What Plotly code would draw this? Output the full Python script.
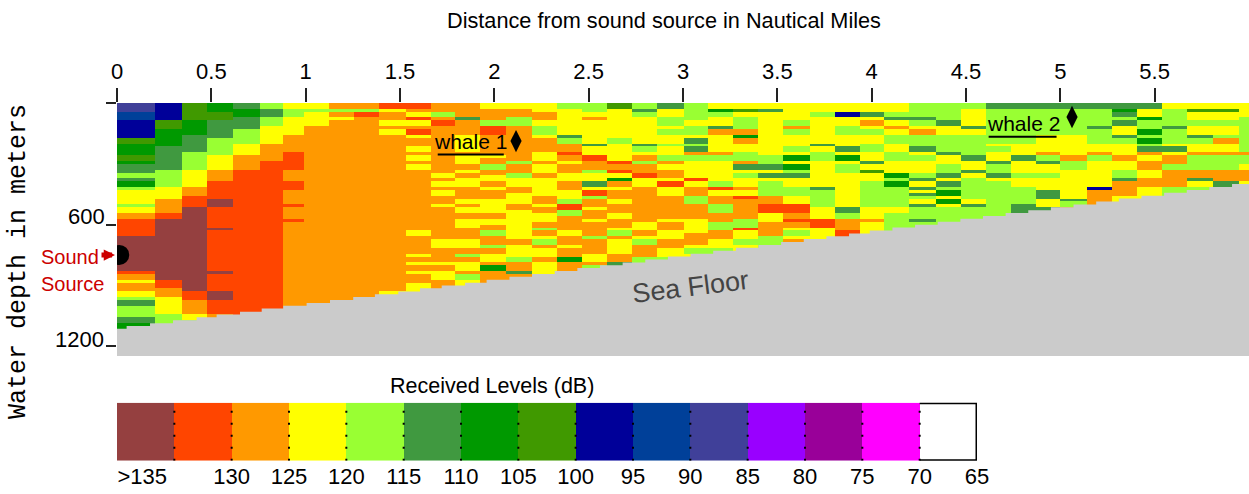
import numpy as np
import plotly.graph_objects as go

# ---------- data ----------
column_edges_nm = [0, .2015, .343, .476, .617, .758, .882, .993, 1.126, 1.257, 1.388, 1.531, 1.663, 1.794, 1.926,
                   2.061, 2.199, 2.333, 2.464, 2.597, 2.729, 2.862, 3.003, 3.134, 3.265, 3.397, 3.530, 3.671,
                   3.803, 3.936, 4.067, 4.199, 4.341, 4.473, 4.606, 4.736, 4.869, 5.0, 5.142, 5.274, 5.407,
                   5.537, 5.670, 5.810, 5.945, 6.0]
row_height_m = 14.3
n_rows = 87

# each column: received level (dB bin), number of depth rows, from the surface down
col_01 = [87,3,92,3,97,6,102,2,107,4,102,2,107,1,112,3,117,2,112,1,107,2,117,1,122,5,117,1,122,2,127,2,132,6,137,12,132,1,127,2,122,1,127,3,122,2,117,1,112,2,117,4,112,2,107,2]
col_02 = [97,6,102,3,107,6,112,8,117,6,122,4,127,5,132,2,137,21,132,3,127,3,122,6,117,3,117,4]
col_03 = [102,6,107,5,112,6,117,6,122,6,127,3,132,4,137,29,132,3,127,5,122,2,117,2]
col_04 = [107,3,102,3,112,6,117,6,122,5,127,4,132,6,137,3,132,7,137,1,132,14,137,1,132,6,137,3,132,5,127,2]
col_05 = [112,2,107,3,112,4,117,5,122,4,127,5,132,49]
col_06 = [117,2,112,3,117,3,122,6,127,6,132,51]
col_07 = [122,2,117,3,122,6,127,6,132,6,127,4,132,3,127,5,132,1,127,4,132,1,127,30]
col_08 = [122,2,117,1,122,5,127,60]
col_09 = [127,2,117,1,127,2,122,1,127,60]
col_10 = [127,2,117,1,132,2,127,60]
col_11 = [132,2,122,1,127,3,122,2,127,1,122,2,127,54,122,1]
col_12 = [132,2,127,1,122,2,132,1,122,2,127,1,132,2,122,1,127,3,122,2,127,1,122,2,127,1,122,2,127,21,122,2,127,6,122,1,127,2,122,1,127,2,122,1,127,3,122,2]
col_13 = [127,3,117,2,127,1,132,2,127,16,122,2,127,1,122,2,127,1,122,2,127,3,122,1,127,11,122,3,127,5,122,1,127,2,122,3,127,5]
col_14 = [127,5,112,1,127,5,122,6,127,1,122,3,127,2,122,1,127,2,122,3,127,4,122,2,127,1,122,2,127,2,122,3,127,4,122,3,127,2,117,1,127,2,122,3,127,1,117,2,122,3]
col_15 = [122,2,127,4,117,2,132,3,127,7,122,1,127,2,117,2,127,2,122,2,127,2,122,1,127,3,122,5,127,2,122,2,127,2,117,2,127,3,117,1,127,2,122,3,127,1,107,2,127,3]
col_16 = [122,2,127,3,117,3,127,12,117,1,127,3,117,2,122,3,127,2,122,4,127,2,122,10,127,2,122,4,117,2,127,3,112,1,127,2]
col_17 = [122,3,127,3,122,2,117,3,122,1,127,5,122,3,127,1,122,3,127,2,122,6,127,3,122,1,127,2,122,3,127,2,117,1,127,2,122,1,117,2,127,1,122,3,127,2,122,5]
col_18 = [117,2,122,9,112,1,117,2,127,3,132,1,127,2,122,1,127,3,122,3,127,3,122,3,117,2,132,2,117,2,127,5,122,2,127,3,122,1,127,3,107,2,127,3]
col_19 = [117,3,122,2,127,1,122,8,112,1,122,3,132,2,127,3,117,1,122,3,112,2,122,1,132,2,117,1,127,3,122,1,127,3,122,1,127,5,117,1,127,5,122,3,127,1,117,1]
col_20 = [102,2,122,10,117,2,122,6,132,1,127,2,132,1,122,2,107,1,127,2,122,1,127,3,122,2,127,3,122,2,127,3,122,1,117,2,127,1,122,5,127,3,112,1]
col_21 = [117,2,112,1,117,2,122,9,112,1,117,2,122,1,127,2,117,1,127,3,132,2,122,3,127,12,122,3,127,2,122,1,117,2,127,4,117,2]
col_22 = [112,2,122,3,117,3,122,1,117,2,122,3,117,1,122,3,117,2,127,1,122,2,127,3,122,1,132,2,122,3,127,8,122,1,127,3,122,3,127,3,122,3,117,2]
col_23 = [117,6,122,2,117,3,122,1,112,2,117,1,112,2,127,1,117,2,122,6,132,1,122,2,127,3,117,3,127,5,122,5,127,4,122,1,117,2,122,2]
col_24 = [122,2,107,1,117,2,122,3,112,1,127,2,122,6,127,1,117,2,122,7,117,2,132,1,122,2,127,3,117,3,127,3,117,3,127,3,122,3,117,1]
col_25 = [122,2,102,1,122,2,117,4,127,2,107,1,127,2,122,3,117,3,127,1,112,2,122,1,117,2,122,3,127,1,122,2,132,1,127,7,117,3,132,1,122,3,117,2,122,1]
col_26 = [122,2,112,1,122,15,117,3,112,2,122,1,112,2,122,1,117,5,127,3,132,3,122,3,127,5,117,3]
col_27 = [122,6,117,2,127,1,117,2,122,4,117,2,122,1,107,2,122,1,107,2,117,1,112,2,122,3,117,3,122,3,132,3,127,2,132,1,127,2,122,1,117,2,122,1,127,1]
col_28 = [122,3,117,2,122,9,112,1,122,2,117,3,122,9,112,1,117,6,122,4,132,3,122,3]
col_29 = [122,3,97,2,122,3,117,3,122,3,122,1,112,2,122,1,107,2,122,1,117,3,122,12,112,2,117,2,127,4,132,1]
col_30 = [122,3,112,2,122,1,127,2,122,1,117,2,122,3,117,3,122,3,112,1,122,2,102,1,122,3,117,9,122,4,127,1,122,3]
col_31 = [122,3,117,2,112,1,122,2,127,1,122,2,117,3,122,3,117,3,122,4,107,2,117,1,107,2,117,7,122,2,117,4]
col_32 = [117,5,112,1,117,2,122,1,127,2,117,4,112,2,122,1,117,2,122,4,117,2,112,1,122,2,112,1,122,1,112,1,117,1,122,2,112,1,117,4,112,1,117,5]
col_33 = [117,6,112,2,122,3,117,6,112,1,122,3,117,3,112,2,122,1,112,2,117,1,107,2,122,1,107,2,122,1,117,4]
col_34 = [117,2,122,6,112,1,122,2,117,7,112,2,122,3,112,1,122,2,117,7,122,2,112,1,117,4]
col_35 = [112,2,117,12,122,1,117,2,122,3,112,1,117,3,112,2,122,1,117,11]
col_36 = [112,2,117,12,122,4,112,2,122,4,117,2,122,3,117,6,112,3]
col_37 = [112,2,117,9,122,6,127,1,117,2,112,1,122,3,117,2,122,4,112,3,122,3,112,1]
col_38 = [112,2,117,9,122,7,127,2,117,3,122,10,112,1,117,2,127,1]
col_39 = [112,2,117,6,112,1,117,5,122,3,127,1,117,2,122,9,97,1,127,5]
col_40 = [112,2,107,1,112,2,117,1,112,2,122,3,112,1,117,2,122,4,127,2,122,3,117,3,112,1,127,5,122,2]
col_41 = [112,2,122,3,107,1,117,3,107,2,117,1,107,2,117,1,112,2,127,1,122,2,127,3,122,3,127,3,122,3]
col_42 = [122,2,117,6,112,1,117,5,122,1,112,2,122,1,127,3,117,2,127,6,117,3]
col_43 = [122,2,102,1,122,3,117,2,122,3,112,1,117,2,122,3,127,1,117,5,127,3,112,1,122,2,117,2]
col_44 = [122,2,102,1,122,3,117,2,122,3,117,1,127,2,122,3,127,1,117,5,127,4,112,2,122,2]
col_45 = [122,5,117,12,127,1,117,3,122,2,127,4,122,3]
columns = [col_01,col_02,col_03,col_04,col_05,col_06,col_07,col_08,col_09,col_10,col_11,col_12,col_13,col_14,col_15,
           col_16,col_17,col_18,col_19,col_20,col_21,col_22,col_23,col_24,col_25,col_26,col_27,col_28,col_29,col_30,
           col_31,col_32,col_33,col_34,col_35,col_36,col_37,col_38,col_39,col_40,col_41,col_42,col_43,col_44,col_45]

seafloor_nm = [0,.051,.175,.297,.422,.528,.652,.767,.881,1.005,1.129,1.252,1.367,1.491,1.606,1.721,1.845,1.959,
               2.08,2.20,2.32,2.44,2.56,2.68,2.80,2.92,3.04,3.16,3.28,3.40,3.52,3.64,3.76,3.88,3.99,
               4.11,4.23,4.35,4.47,4.59,4.71,4.83,4.95,5.07,5.19,5.31,5.43,5.55,5.67,5.79,5.91,6.0]
seafloor_m = [1115,1101,1087,1072,1058,1044,1030,1015,1001,987,972,958,944,930,915,901,887,872,
              858,844,829,815,801,787,772,758,744,729,715,701,686,672,658,644,629,
              615,601,586,572,558,543,529,515,501,486,472,458,443,429,415,400,400]

legend_bins = [137,132,127,122,117,112,107,102,97,92,87,82,77,72,67]
legend_colors = ["#954040","#FF4500","#FF9900","#FFFF00","#99FF33","#409940","#009900","#409900",
                 "#000099","#004099","#404099","#9900FF","#990099","#FF00FF","#FFFFFF"]
legend_edges = [140,135,130,125,120,115,110,105,100,95,90,85,80,75,70,65]
legend_tick_vals = [137.8,130,125,120,115,110,105,100,95,90,85,80,75,70,65]
legend_tick_text = [">135","130","125","120","115","110","105","100","95","90","85","80","75","70","65"]

x_ticks = [0,.5,1,1.5,2,2.5,3,3.5,4,4.5,5,5.5]
x_tick_text = ["0","0.5","1","1.5","2","2.5","3","3.5","4","4.5","5","5.5"]
y_ticks = [0,600,1200]
whale_nm = [2.115,5.062]
whale_m = [188,69]
whale_names = ["whale 1","whale 2"]
whale_underline_nm = [[1.70,2.05],[4.62,4.98]]
whale_underline_m = [254,166]
source_nm = [0.012]
source_m = [750]

# ---------- build ----------
W, H = 1249, 494
TXT = "Liberation Sans, Arial, sans-serif"
row_edges = [i*row_height_m for i in range(n_rows+1)]
z = np.full((n_rows, len(columns)), np.nan)
for j, col in enumerate(columns):
    r = 0
    for v, n in zip(col[0::2], col[1::2]):
        z[r:r+n, j] = v
        r += n
    if r < n_rows:
        z[r:, j] = col[-2]

lo, hi = 65, 140
cs = []
for i, c in enumerate(reversed(legend_colors)):
    cs += [[i/15, c], [(i+1)/15, c]]

fig = go.Figure()
fig.add_heatmap(x=column_edges_nm, y=row_edges, z=z, zmin=lo, zmax=hi, colorscale=cs, showscale=False, hoverinfo="skip")
fig.add_scatter(x=seafloor_nm+[6.0,0], y=seafloor_m+[1249,1249], mode="lines", line=dict(shape="hv", width=0, color="#CBCBCB"),
                fill="toself", fillcolor="#CBCBCB", hoverinfo="skip", showlegend=False)
fig.add_scatter(x=source_nm, y=source_m, mode="markers", marker=dict(symbol="circle", size=20, color="black"),
                hoverinfo="skip", showlegend=False)
fig.add_scatter(x=whale_nm, y=whale_m, mode="markers", marker=dict(symbol="diamond-tall", size=16, color="black"),
                hoverinfo="skip", showlegend=False)
for xs, ym in zip(whale_underline_nm, whale_underline_m):
    fig.add_scatter(x=xs, y=[ym, ym], mode="lines", line=dict(color="black", width=2), hoverinfo="skip", showlegend=False)

# legend bar
fig.add_heatmap(x=legend_edges, y=[0,1], z=[legend_bins], zmin=lo, zmax=hi, colorscale=cs, showscale=False,
                xaxis="x2", yaxis="y2", hoverinfo="skip")
sx, sy = [], []
for e in legend_edges[1:-1]:
    sx += [e, e, None]
    sy += [0, 1, None]
fig.add_scatter(x=sx, y=sy, xaxis="x2", yaxis="y2", mode="lines", line=dict(color="black", width=2, dash="2px,10px"),
                hoverinfo="skip", showlegend=False)

ann = []
def note(text, x, y, size, color="black", family=TXT, angle=0, xanchor="center"):
    ann.append(dict(text=text, x=x/W, y=1-y/H, xref="paper", yref="paper", showarrow=False, xanchor=xanchor,
                    yanchor="middle", textangle=angle, font=dict(size=size, color=color, family=family)))
note("Distance from sound source in Nautical Miles", 664, 20, 21.7)
note("Received Levels (dB)", 492, 386, 21.5)
note("Water depth in meters", 18, 262, 25, family="Liberation Mono", angle=-90)
note("600", 107, 216, 22, xanchor="right")
note("1200", 106, 339, 22, xanchor="right")
note("Sound", 39, 257, 20, color="#CC0000", xanchor="left")
note("Source", 39, 284, 20, color="#CC0000", xanchor="left")
note("Sea Floor", 690, 287, 27, color="#444444", family="Liberation Sans", angle=-7)
for name, px, py in zip(whale_names, [470, 1023], [142, 124]):
    note(name, px, py, 21)
ann.append(dict(x=115/W, y=1-255/H, xref="paper", yref="paper", ax=-15, ay=0, axref="pixel", ayref="pixel", text="",
                showarrow=True, arrowhead=2, arrowsize=0.45, arrowwidth=5, arrowcolor="#CC0000"))

axis_font = dict(size=22, family=TXT, color="black")
fig.update_layout(
    template="none",
    width=W, height=H, margin=dict(l=0, r=0, t=0, b=0, pad=0), autosize=False,
    plot_bgcolor="white", paper_bgcolor="white", showlegend=False, annotations=ann,
    xaxis=dict(domain=[117/W, 1], range=[0, 6], side="top", tickvals=x_ticks, ticktext=x_tick_text, ticks="outside",
               ticklen=14, tickwidth=2, tickcolor="#222", showgrid=False, zeroline=False, showline=False,
               tickfont=axis_font, anchor="y", automargin=False),
    yaxis=dict(domain=[1-356/H, 1-103/H], range=[1249, 0], tickvals=y_ticks, ticktext=["", "", ""], ticks="outside",
               ticklen=10, tickwidth=2, tickcolor="#222", showgrid=False, zeroline=False, showline=False, anchor="x",
               automargin=False),
    xaxis2=dict(domain=[117/W, 977/W], range=[140, 65], tickvals=legend_tick_vals, ticktext=legend_tick_text,
                ticks="", showgrid=False, zeroline=False, showline=False, tickfont=axis_font, anchor="y2", side="bottom",
                automargin=False),
    yaxis2=dict(domain=[1-460.7/H, 1-402.7/H], range=[0, 1], showticklabels=False, ticks="", showgrid=False,
                zeroline=False, showline=False, anchor="x2", automargin=False),
    shapes=[dict(type="path", xref="x2", yref="y2", path="M 70 1 L 65 1 L 65 0 L 70 0", line=dict(color="black", width=3))],
)
fig.write_html("out.html", config={"displayModeBar": False},
               post_script="document.body.style.margin='0';")
